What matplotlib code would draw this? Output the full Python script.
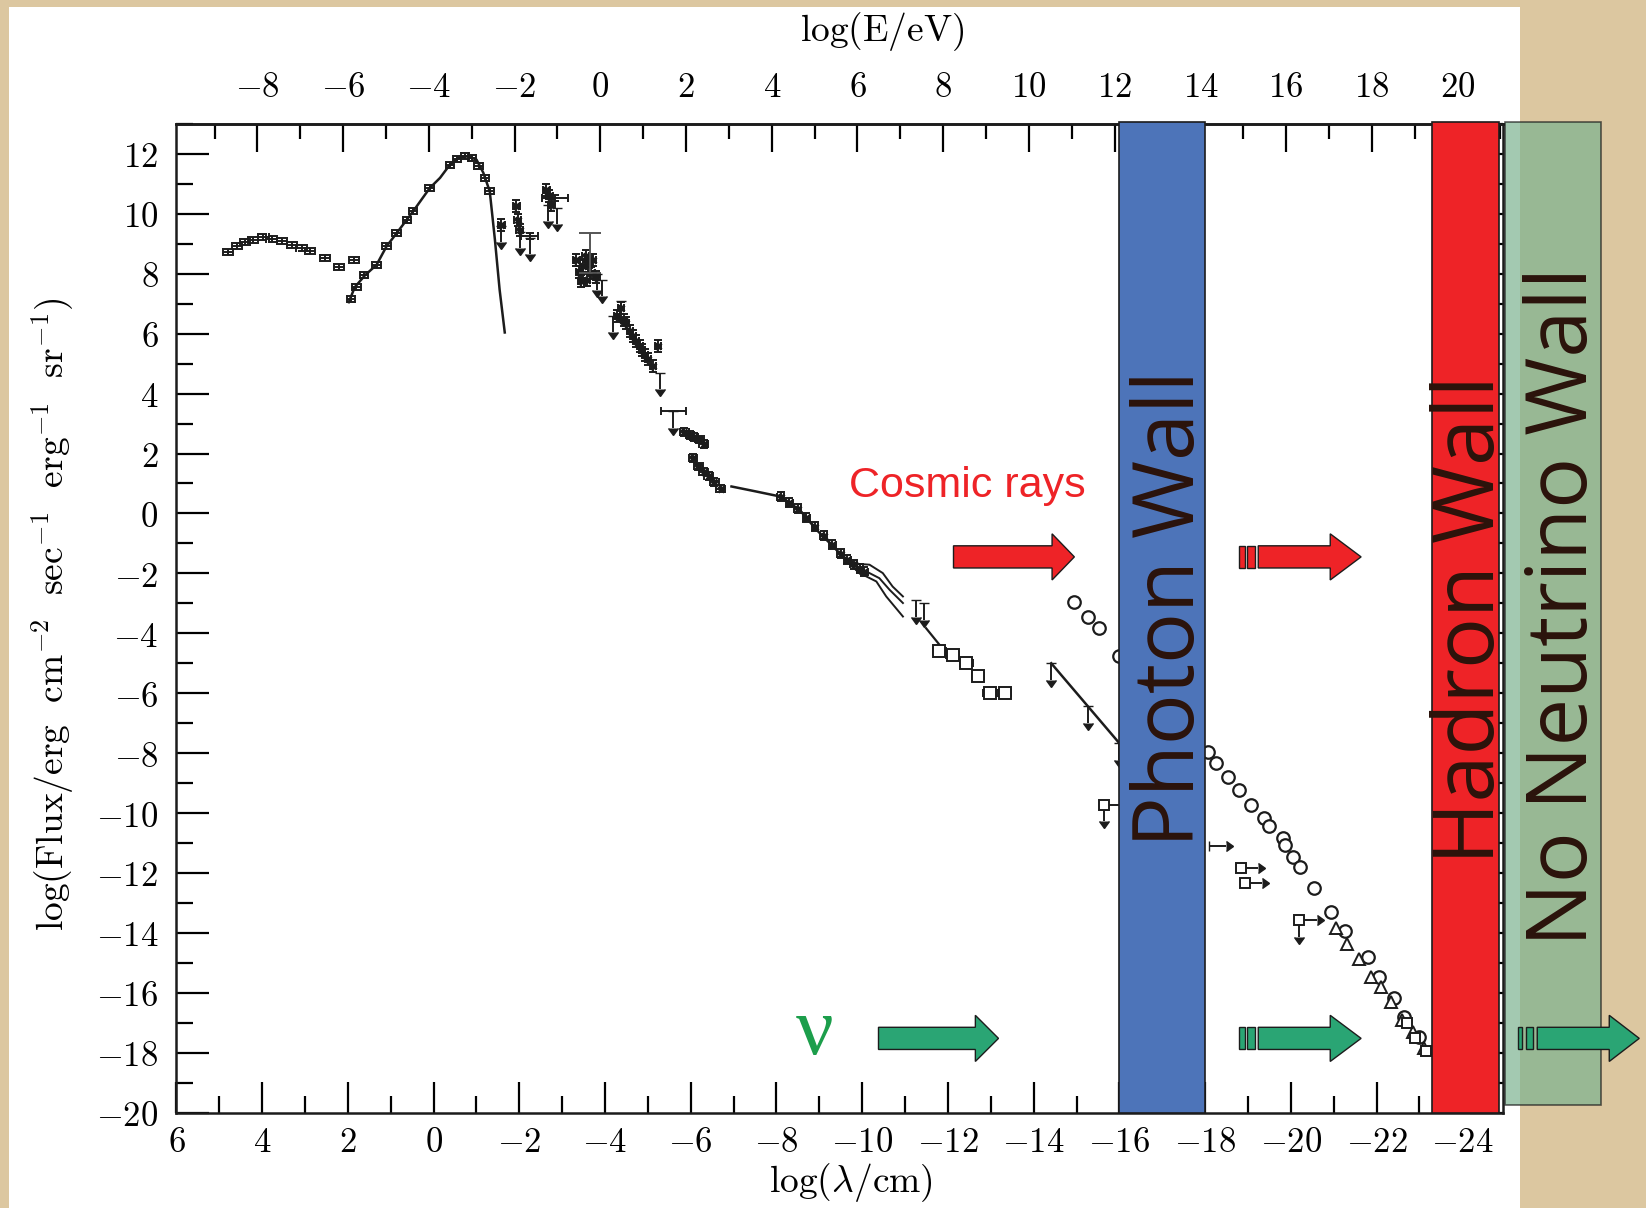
import numpy as np
import matplotlib.pyplot as plt
from matplotlib.patches import Rectangle, FancyArrow
from matplotlib.ticker import MultipleLocator, FuncFormatter

# ---- data: x = log(lambda/cm), y = log(flux) ----
radio_x = [4.79, 4.59, 4.40, 4.21, 3.97, 3.78, 3.54, 3.31, 3.08, 2.89, 2.54, 2.20, 1.86]
radio_y = [8.71, 8.91, 9.05, 9.14, 9.23, 9.16, 9.08, 8.97, 8.86, 8.75, 8.53, 8.23, 8.45]

cmb_curve_x = [1.98, 1.84, 1.60, 1.33, 1.10, 0.86, 0.48, 0.09, -0.15, -0.38, -0.60, -0.80, -1.00, -1.16, -1.31, -1.43, -1.54, -1.66]
cmb_curve_y = [7.05, 7.55, 7.95, 8.30, 8.91, 9.36, 10.08, 10.86, 11.20, 11.64, 11.88, 11.92, 11.81, 11.37, 10.75, 9.14, 7.47, 6.04]
cmb_pts_x = [1.93, 1.80, 1.62, 1.33, 1.10, 0.86, 0.62, 0.48, 0.09, -0.38, -0.55, -0.73, -0.90, -1.05, -1.20, -1.31]
cmb_pts_y = [7.15, 7.55, 7.95, 8.30, 8.91, 9.36, 9.80, 10.08, 10.86, 11.64, 11.82, 11.92, 11.85, 11.60, 11.20, 10.75]

ir_x = [-1.58, -1.93, -1.96, -2.01, -2.63, -2.70, -2.75]
ir_y = [9.64, 10.25, 9.80, 9.47, 10.81, 10.60, 10.30]
ir_wide_x = [-2.24, -2.83]
ir_wide_y = [9.25, 10.53]
ir_wide_err = [0.19, 0.31]

opt_x = [-3.33, -3.40, -3.49, -3.57, -3.62, -3.68, -3.72, -3.45, -3.55, -3.80]
opt_y = [8.47, 8.05, 8.25, 7.80, 8.40, 8.03, 8.47, 7.75, 8.60, 7.90]
opt_tall_x, opt_tall_y, opt_tall_err = -3.64, 8.70, 0.66

uv_x = [-4.27, -4.38, -4.45, -4.50, -4.58, -4.65, -4.72, -4.81, -4.87, -4.93, -5.00, -5.12, -5.24]
uv_y = [6.58, 6.85, 6.45, 6.36, 6.10, 5.91, 5.75, 5.58, 5.45, 5.30, 5.15, 4.91, 5.58]

xr_x = [-5.85, -5.98, -6.08, -6.20, -6.30, -6.05, -6.18, -6.30, -6.42, -6.55, -6.70]
xr_y = [2.72, 2.62, 2.55, 2.48, 2.32, 1.85, 1.57, 1.40, 1.25, 1.05, 0.82]
xr_wide_x, xr_wide_y, xr_wide_err = -5.59, 3.41, 0.29

gam_line_x = [-6.95, -7.50, -8.07, -8.54, -8.93, -9.32, -9.70, -9.94]
gam_line_y = [0.90, 0.74, 0.57, 0.12, -0.54, -1.10, -1.66, -1.99]
gam_pts_x = [-8.10, -8.30, -8.50, -8.70, -8.90, -9.10, -9.30, -9.50, -9.65, -9.80, -9.95, -10.05]
gam_pts_y = [0.55, 0.35, 0.15, -0.15, -0.45, -0.75, -1.05, -1.35, -1.55, -1.70, -1.85, -1.95]
band_up_x = [-9.70, -10.17, -10.48, -10.71, -10.95]
band_up_y = [-1.66, -1.71, -1.99, -2.44, -2.77]
band_mid_x = [-9.70, -10.02, -10.40, -10.64, -10.95]
band_mid_y = [-1.66, -1.88, -2.16, -2.55, -2.99]
band_lo_x = [-9.70, -9.94, -10.33, -10.56, -10.95]
band_lo_y = [-1.66, -1.99, -2.27, -2.77, -3.44]

seg_x = [-11.49, -11.96]
seg_y = [-3.83, -4.66]
box_x = [-11.80, -12.11, -12.43, -12.70, -12.97, -13.32]
box_y = [-4.60, -4.72, -5.00, -5.44, -6.00, -6.00]

egret_x = [-14.41, -16.00]
egret_y = [-5.00, -7.67]

# upper limits (arrows pointing down)
ul_x = [-1.58, -2.01, -2.24, -2.68, -2.88, -3.92, -3.82, -4.18, -4.38, -5.28, -5.59,
        -11.26, -11.45, -14.41, -15.26, -15.98, -15.65, -20.20]
ul_y = [9.60, 9.40, 9.20, 10.30, 10.20, 7.80, 8.00, 6.60, 7.10, 4.70, 3.41,
        -2.90, -3.00, -5.00, -6.44, -7.67, -9.73, -13.57]

circ_x = [-14.95, -15.26, -15.53, -16.00, -18.06, -18.26, -18.53, -18.80, -19.07, -19.38,
          -19.50, -19.81, -19.87, -20.04, -20.21, -20.55, -20.94, -21.26, -21.79, -22.06,
          -22.41, -22.65, -23.00]
circ_y = [-2.94, -3.44, -3.83, -4.77, -7.95, -8.33, -8.78, -9.23, -9.73, -10.17,
          -10.43, -10.84, -11.06, -11.45, -11.79, -12.51, -13.29, -13.92, -14.81, -15.46,
          -16.18, -16.80, -17.46]
tri_x = [-21.05, -21.32, -21.60, -21.87, -22.10, -22.34, -22.60, -22.84, -23.10]
tri_y = [-13.84, -14.37, -14.88, -15.46, -15.79, -16.29, -16.90, -17.30, -17.85]
dense_x = [-22.70, -22.90, -23.15]
dense_y = [-17.00, -17.50, -17.95]

# lower limits in energy (arrows pointing right)
ll_x = [-15.65, -18.08, -18.84, -18.92, -20.20]
ll_y = [-9.73, -11.10, -11.84, -12.34, -13.57]
sq_x = [-15.65, -18.84, -18.92, -20.20]
sq_y = [-9.73, -11.84, -12.34, -13.57]

# ---- style ----
plt.rcParams['mathtext.fontset'] = 'cm'
plt.rcParams['font.family'] = ['DejaVu Serif']
ink = '#1c1c1c'
red = '#ee2327'
green = '#2aa574'
wall_txt = '#2b130b'

fig = plt.figure(figsize=(16.46, 12.08), dpi=100)
fig.patch.set_facecolor('#dcc7a0')
fig.add_artist(Rectangle((0.0055, 0), 0.918, 0.994, transform=fig.transFigure,
                         facecolor='white', edgecolor='none', zorder=-1))

ax = fig.add_axes([0.1072, 0.0789, 0.8059, 0.8185])
ax.set_facecolor('none')
ax.set_xlim(6, -24.95)
ax.set_ylim(-20, 13)

fmt = FuncFormatter(lambda v, p: r'$%d$' % int(round(v)))
ax.xaxis.set_major_locator(MultipleLocator(2))
ax.xaxis.set_minor_locator(MultipleLocator(1))
ax.yaxis.set_major_locator(MultipleLocator(2))
ax.yaxis.set_minor_locator(MultipleLocator(1))
ax.xaxis.set_major_formatter(fmt)
ax.yaxis.set_major_formatter(fmt)
ax.tick_params(axis='x', which='major', direction='in', length=22, width=1.6, pad=9,
               labelsize=25, top=False)
ax.tick_params(axis='x', which='minor', direction='in', length=12, width=1.6, top=False)
ax.tick_params(axis='y', which='major', direction='in', length=24, width=1.6, pad=13,
               labelsize=25, right=True)
ax.tick_params(axis='y', which='minor', direction='in', length=12, width=1.6, right=True)
for s in ax.spines.values():
    s.set_linewidth(1.8)
    s.set_color(ink)

sec = ax.secondary_xaxis('top', functions=(lambda l: -3.89 - l, lambda e: -3.89 - e))
sec.xaxis.set_major_locator(MultipleLocator(2))
sec.xaxis.set_minor_locator(MultipleLocator(1))
sec.xaxis.set_major_formatter(fmt)
sec.tick_params(which='major', direction='in', length=20, width=1.6, pad=14, labelsize=25)
sec.tick_params(which='minor', direction='in', length=11, width=1.6)
sec.spines['top'].set_linewidth(1.8)

# ---- the scanned spectrum ----
eb = dict(fmt='none', color=ink, ecolor=ink, elinewidth=1.4, capsize=3, capthick=1.4, zorder=3)
blob = dict(ls='none', marker='x', ms=5, mew=2, color=ink, zorder=3)
ax.errorbar(radio_x, radio_y, xerr=0.12, yerr=0.1, **eb)
ax.plot(cmb_curve_x, cmb_curve_y, color=ink, lw=1.8, zorder=3)
ax.errorbar(cmb_pts_x, cmb_pts_y, xerr=0.1, yerr=0.1, **eb)
ax.errorbar(ir_x, ir_y, xerr=0.08, yerr=0.2, **eb)
ax.plot(ir_x, ir_y, **blob)
ax.errorbar(ir_wide_x, ir_wide_y, xerr=ir_wide_err, yerr=0.1, **eb)
ax.errorbar(opt_x, opt_y, xerr=0.08, yerr=0.2, **eb)
ax.plot(opt_x, opt_y, **blob)
ax.errorbar(opt_tall_x, opt_tall_y, yerr=opt_tall_err, fmt='none', color='#555555',
            ecolor='#555555', elinewidth=1.4, capsize=8, capthick=1.4, zorder=3)
ax.errorbar(uv_x, uv_y, xerr=0.07, yerr=0.2, **eb)
ax.plot(uv_x, uv_y, **blob)
ax.errorbar(xr_x, xr_y, xerr=0.1, yerr=0.12, **eb)
ax.plot(xr_x, xr_y, **blob)
ax.errorbar(xr_wide_x, xr_wide_y, xerr=xr_wide_err, **eb)
ax.plot(gam_line_x, gam_line_y, color=ink, lw=1.8, zorder=3)
ax.errorbar(gam_pts_x, gam_pts_y, xerr=0.08, yerr=0.15, **eb)
ax.plot(gam_pts_x, gam_pts_y, **blob)
for bx, by in [(band_up_x, band_up_y), (band_mid_x, band_mid_y), (band_lo_x, band_lo_y)]:
    ax.plot(bx, by, color=ink, lw=1.4, zorder=3)
ax.plot(seg_x, seg_y, color=ink, lw=1.6, zorder=3)
ax.errorbar(box_x, box_y, xerr=0.15, yerr=0.15, fmt='s', ms=9, mfc='white', mec=ink,
            mew=1.4, color=ink, ecolor=ink, elinewidth=1.4, capsize=3, zorder=3)
ax.plot(egret_x, egret_y, color=ink, lw=1.8, zorder=3)
ax.errorbar(ul_x, ul_y, yerr=0.55, uplims=True, fmt='none', color=ink, ecolor=ink,
            elinewidth=1.4, capsize=3.5, zorder=3)
ax.errorbar(ll_x, ll_y, xerr=0.4, xuplims=True, fmt='none', color=ink, ecolor=ink,
            elinewidth=1.4, capsize=3.5, zorder=3)
ax.plot(sq_x, sq_y, 's', ms=7, mfc='white', mec=ink, mew=1.4, zorder=3)
ax.plot(circ_x, circ_y, 'o', ms=9, mfc='white', mec=ink, mew=1.6, zorder=3)
ax.plot(tri_x, tri_y, '^', ms=8, mfc='white', mec=ink, mew=1.4, zorder=3)
ax.plot(dense_x, dense_y, 's', ms=7, mfc='white', mec=ink, mew=1.4, zorder=3)

# ---- walls ----
ax.add_patch(Rectangle((-16.0, -20), -2.0, 33.05, facecolor='#4d74b9', edgecolor=ink,
                       lw=1.2, zorder=4, clip_on=False))
ax.add_patch(Rectangle((-23.3, -20), -1.56, 33.05, facecolor=red, edgecolor=ink,
                       lw=1.2, zorder=4, clip_on=False))
ax.add_patch(Rectangle((-25.0, -19.75), -2.24, 32.82, facecolor='#7cb290', alpha=0.7,
                       edgecolor=ink, lw=1.2, zorder=4, clip_on=False))

wall_font = dict(rotation=90, rotation_mode='anchor', ha='center', va='baseline',
                 fontsize=61, fontweight='medium', family=['Open Sans', 'DejaVu Sans'],
                 color=wall_txt, zorder=6)
ax.text(-17.75, -3.18, 'Photon Wall', **wall_font)
ax.text(-24.74, -3.54, 'Hadron Wall', **wall_font)
ax.text(-26.91, -3.10, 'No Neutrino Wall', clip_on=False, **wall_font)

# ---- arrows ----
def arrow(x0, x1, yc, color, head, bars=None):
    if bars:
        for b0, b1 in bars:
            ax.add_patch(Rectangle((b0, yc - 0.37), b1 - b0, 0.74, facecolor=color,
                                   edgecolor=ink, lw=1, zorder=5, clip_on=False))
    ax.add_patch(FancyArrow(x0, yc, x1 - x0, 0, width=0.74, head_width=1.54,
                            head_length=head, length_includes_head=True,
                            facecolor=color, edgecolor=ink, lw=1, zorder=5, clip_on=False))

gap_bars = [(-18.80, -18.92), (-18.98, -19.17)]
arrow(-12.13, -14.95, -1.45, red, 0.52)
arrow(-19.24, -21.64, -1.45, red, 0.72, gap_bars)
arrow(-10.38, -13.18, -17.52, green, 0.54)
arrow(-19.24, -21.64, -17.52, green, 0.72, gap_bars)
arrow(-25.75, -28.13, -17.52, green, 0.70, [(-25.31, -25.40), (-25.49, -25.66)])

ax.text(-9.7, 0.56, 'Cosmic rays', ha='left', va='baseline', fontsize=31,
        family=['Liberation Sans', 'DejaVu Sans'], color=red, zorder=6)
ax.text(-8.89, -17.37, 'ν', ha='center', va='center', fontsize=60,
        family=['Liberation Serif', 'DejaVu Serif'], color='#1c9e4b', zorder=6)

# ---- axis titles ----
fig.text(0.536, 0.974, r'$\mathrm{log(E/eV)}$', ha='center', va='center', fontsize=27)
fig.text(0.517, 0.021, r'$\mathrm{log(\lambda/cm)}$', ha='center', va='center', fontsize=27)
fig.text(0.0319, 0.4917,
         r'$\mathrm{log(Flux/erg\ \ cm^{-2}\ \ sec^{-1}\ \ erg^{-1}\ \ sr^{-1})}$',
         rotation=90, ha='center', va='center', fontsize=27)

fig.savefig('out.png', dpi=100, facecolor=fig.get_facecolor())
